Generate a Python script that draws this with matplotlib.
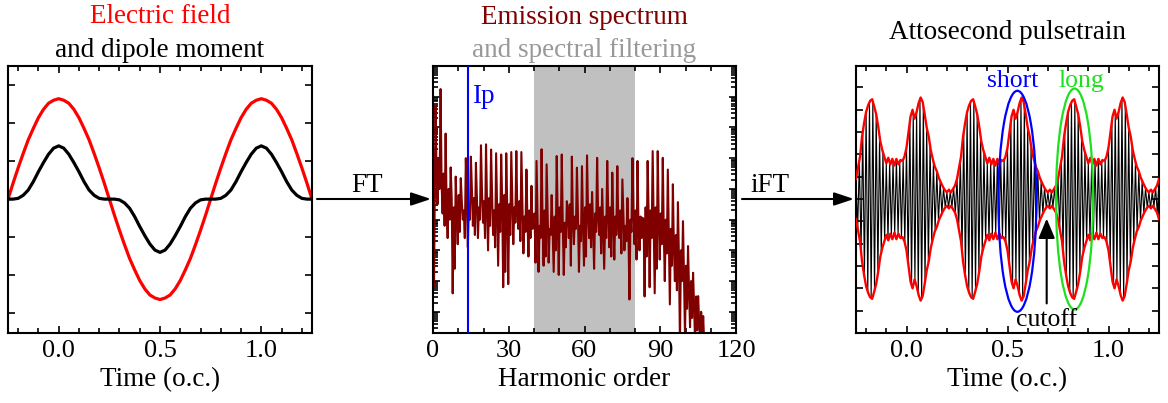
import numpy as np
import matplotlib
matplotlib.use("Agg")
import matplotlib.pyplot as plt
from matplotlib.patches import Ellipse, FancyArrowPatch
from matplotlib.ticker import MultipleLocator, LogLocator, NullFormatter

plt.rcParams['font.family'] = ['Liberation Serif', 'DejaVu Serif']

# ---- panel 1: field and dipole (time in optical cycles, step 0.025) ----
t_field = np.linspace(-0.25, 1.25, 61)
e_field = [0.0, 0.21, 0.41, 0.60, 0.78, 0.93, 1.07, 1.18, 1.26, 1.30, 1.32,
           1.30, 1.26, 1.18, 1.07, 0.93, 0.78, 0.60, 0.41, 0.21, 0.0,
           -0.21, -0.41, -0.60, -0.78, -0.93, -1.07, -1.18, -1.26, -1.30, -1.32,
           -1.30, -1.26, -1.18, -1.07, -0.93, -0.78, -0.60, -0.41, -0.21, 0.0,
           0.21, 0.41, 0.60, 0.78, 0.93, 1.07, 1.18, 1.26, 1.30, 1.32,
           1.30, 1.26, 1.18, 1.07, 0.93, 0.78, 0.60, 0.41, 0.21, 0.0]
dipole = [0.0, 0.0, 0.01, 0.05, 0.12, 0.23, 0.36, 0.48, 0.59, 0.67, 0.70,
          0.67, 0.59, 0.48, 0.36, 0.23, 0.12, 0.05, 0.01, 0.0, 0.0,
          0.0, -0.01, -0.05, -0.12, -0.23, -0.36, -0.48, -0.59, -0.67, -0.70,
          -0.67, -0.59, -0.48, -0.36, -0.23, -0.12, -0.05, -0.01, 0.0, 0.0,
          0.0, 0.01, 0.05, 0.12, 0.23, 0.36, 0.48, 0.59, 0.67, 0.70,
          0.67, 0.59, 0.48, 0.36, 0.23, 0.12, 0.05, 0.01, 0.0, 0.0]

# ---- panel 2: spectrum, log10 intensity ----
spec_start_x = [0.0, 0.4]
spec_start = [-2.8, -7.2]
odd_harm = np.arange(1, 108, 2)
# value at the odd harmonic, then four points between it and the next one
harm_peak = [-1.3, -0.75, -2.2, -3.3, -3.6, -3.65, -3.0, -2.95, -3.15, -2.58,
             -2.55, -2.72, -2.84, -2.88, -2.84, -2.8, -2.77, -2.8, -3.37, -3.9,
             -3.09, -2.71, -3.2, -4.2, -2.93, -2.88, -4.4, -2.95, -3.31, -3.26,
             -2.91, -4.1, -2.99, -4.0, -3.09, -3.47, -3.26, -3.69, -4.3, -3.0,
             -3.09, -4.94, -3.09, -2.77, -2.77, -2.99, -3.37, -3.85, -4.43, -5.05,
             -5.86, -6.73, -7.49, -8.14]
harm_mid = [-3.4, -3.8, -4.6, -4.3, -4.8, -4.4, -4.2, -4.0, -4.3, -4.1,
            -4.5, -4.2, -4.6, -4.4, -4.6, -4.3, -4.8, -4.5, -5.0, -5.3,
            -4.9, -5.1, -4.8, -5.4, -5.0, -5.2, -4.7, -5.0, -4.8, -5.1,
            -4.7, -5.2, -4.9, -5.3, -4.8, -5.0, -5.2, -4.9, -5.4, -4.8,
            -5.3, -5.0, -4.8, -5.1, -5.0, -5.4, -5.6, -5.9, -6.3, -6.8,
            -7.3, -7.8, -8.3, -9.0]
harm_low = [-4.5, -4.8, -5.6, -7.4, -5.8, -5.0, -5.9, -5.2, -5.6, -5.1,
            -6.0, -5.5, -6.5, -7.2, -7.1, -5.8, -5.3, -6.1, -6.2, -5.0,
            -6.7, -6.5, -6.4, -6.7, -6.8, -6.8, -5.6, -5.8, -6.7, -6.5,
            -5.6, -6.6, -5.5, -6.6, -5.9, -6.3, -5.6, -6.0, -7.6, -5.8,
            -6.0, -7.5, -7.2, -7.4, -6.3, -7.0, -7.76, -7.0, -9.0, -8.8,
            -8.5, -9.0, -9.2, -9.5]
harm_mid2 = [-3.0, -3.5, -4.0, -4.6, -4.2, -4.7, -4.5, -4.3, -4.6, -4.4,
             -4.3, -4.7, -4.5, -4.2, -4.5, -4.6, -4.4, -4.9, -4.7, -4.8,
             -5.2, -4.7, -5.3, -4.9, -4.6, -5.1, -4.5, -4.9, -5.2, -4.6,
             -4.5, -4.8, -4.6, -4.9, -4.6, -4.9, -4.7, -5.2, -5.0, -4.7,
             -4.9, -4.6, -4.7, -4.6, -4.8, -5.0, -5.3, -5.5, -6.0, -6.5,
             -7.0, -7.5, -8.0, -8.8]
harm_low2 = [-4.0, -5.2, -5.0, -6.6, -5.4, -5.6, -5.0, -5.5, -5.0, -5.6,
             -5.2, -5.9, -5.4, -6.7, -5.5, -5.1, -5.7, -5.4, -5.6, -6.4,
             -5.6, -6.2, -5.5, -6.0, -5.4, -5.9, -6.5, -5.3, -5.7, -6.2,
             -5.9, -5.4, -6.1, -5.6, -6.2, -5.5, -6.1, -5.7, -5.4, -6.3,
             -5.6, -6.2, -5.6, -6.6, -5.8, -6.1, -6.5, -7.3, -7.0, -7.9,
             -8.2, -8.6, -9.1, -9.6]
ip_harm = 14
filter_band = (40, 80)

# ---- panel 3: pulse train envelope, one 0.5 o.c. period, step 0.01 ----
env_period = [0.9, 1.4, 1.9, 2.8, 3.4, 3.9, 4.2, 4.4, 4.47, 4.15,
              3.8, 3.25, 2.6, 2.2, 1.9, 1.6, 1.85, 1.55, 1.8, 1.5,
              1.8, 1.55, 1.75, 1.7, 1.9, 2.3, 3.0, 3.7, 4.0, 3.6,
              3.9, 4.3, 4.55, 4.35, 3.8, 3.2, 2.8, 2.2, 1.8, 1.45,
              1.25, 0.95, 0.75, 0.55, 0.4, 0.3, 0.42, 0.3, 0.45, 0.6]
carrier_harm = 60

# ---------------------------------------------------------------
fig = plt.figure(figsize=(11.68, 4.03), dpi=100)
W, H = 1168, 403
FS = 19.5


def px_axes(x0, x1, y0, y1):
    return fig.add_axes([x0 / W, (H - y1) / H, (x1 - x0) / W, (y1 - y0) / H])


def style(ax):
    for s in ax.spines.values():
        s.set_linewidth(1.5)
    ax.tick_params(which='both', direction='in', top=True, right=True,
                   labelleft=False, width=1.2, labelsize=19, pad=5)
    ax.tick_params(which='major', length=5)
    ax.tick_params(which='minor', length=3.5)


ax1 = px_axes(8, 312, 66, 333)
ax2 = px_axes(433, 736, 66, 333)
ax3 = px_axes(856, 1159, 66, 333)

# panel 1
ax1.plot(t_field, e_field, color='#ff0000', lw=2.3)
ax1.plot(t_field, dipole, color='black', lw=2.3)
ax1.set_xlim(-0.25, 1.25)
ax1.set_ylim(-1.76, 1.75)
ax1.xaxis.set_major_locator(MultipleLocator(0.5))
ax1.xaxis.set_minor_locator(MultipleLocator(0.1))
ax1.yaxis.set_major_locator(MultipleLocator(0.5))
ax1.yaxis.set_major_formatter(NullFormatter())
ax1.xaxis.set_major_formatter(plt.FuncFormatter(lambda v, p: f"{v:.1f}"))
ax1.set_xlabel("Time (o.c.)", fontsize=FS, labelpad=4)
style(ax1)

# panel 2
spec_x = np.concatenate([spec_start_x,
                         np.column_stack([odd_harm, odd_harm + 0.4, odd_harm + 0.8,
                                          odd_harm + 1.2, odd_harm + 1.6]).ravel()])
spec_y = np.concatenate([spec_start,
                         np.column_stack([harm_peak, harm_mid, harm_low,
                                          harm_mid2, harm_low2]).ravel()])
ax2.axvspan(*filter_band, color='#c0c0c0', lw=0, zorder=0)
ax2.plot(spec_x, 10.0 ** spec_y, color='#800000', lw=1.5, zorder=2)
ax2.axvline(ip_harm, color='#0000ff', lw=1.5, zorder=3)
ax2.text(ip_harm + 1.3, 10 ** -1.0, "Ip", color='#0000ff', fontsize=FS,
         va='center', ha='left')
ax2.set_yscale('log')
ax2.set_xlim(0, 120)
ax2.set_ylim(10 ** -8.69, 1)
ax2.xaxis.set_major_locator(MultipleLocator(30))
ax2.xaxis.set_minor_locator(MultipleLocator(10))
ax2.yaxis.set_major_locator(LogLocator(base=10, numticks=20))
ax2.yaxis.set_minor_locator(LogLocator(base=10, subs=np.arange(2, 10), numticks=20))
ax2.yaxis.set_major_formatter(NullFormatter())
ax2.yaxis.set_minor_formatter(NullFormatter())
ax2.set_xlabel("Harmonic order", fontsize=FS, labelpad=4)
style(ax2)

# panel 3
t_env = np.round(np.arange(151) * 0.01 - 0.25, 4)
env = np.append(np.tile(env_period, 3), env_period[0])
t_car = np.arange(-0.25, 1.25 + 1e-9, 1.0 / (2 * carrier_harm))
car = (-1.0) ** np.arange(len(t_car)) * np.interp(t_car, t_env, env)
ax3.plot(t_car, car, color='black', lw=0.8, zorder=2)
ax3.plot(t_env, env, color='#ff0000', lw=1.7, zorder=3)
ax3.plot(t_env, -env, color='#ff0000', lw=1.7, zorder=3)
ax3.add_patch(Ellipse((0.549, -0.1), 0.188, 9.9, fill=False, ec='#0000ff', lw=1.6, zorder=4))
ax3.add_patch(Ellipse((0.832, 0.0), 0.184, 9.9, fill=False, ec='#1ee01e', lw=1.6, zorder=4))
ax3.text(0.525, 5.3, "short", color='#0000ff', fontsize=18.5, ha='center', va='center')
ax3.text(0.865, 5.3, "long", color='#1ee01e', fontsize=18.5, ha='center', va='center')
ax3.annotate("", xy=(0.694, -0.75), xytext=(0.694, -4.8),
             arrowprops=dict(arrowstyle='-|>,head_length=0.6,head_width=0.25',
                             color='black', lw=1.5, mutation_scale=20), zorder=5)
ax3.text(0.694, -5.4, "cutoff", fontsize=18.5, ha='center', va='center', zorder=5)
ax3.set_xlim(-0.25, 1.25)
ax3.set_ylim(-6.0, 5.96)
ax3.xaxis.set_major_locator(MultipleLocator(0.5))
ax3.xaxis.set_minor_locator(MultipleLocator(0.1))
ax3.yaxis.set_major_locator(MultipleLocator(1))
ax3.yaxis.set_major_formatter(NullFormatter())
ax3.xaxis.set_major_formatter(plt.FuncFormatter(lambda v, p: f"{v:.1f}"))
ax3.set_xlabel("Time (o.c.)", fontsize=FS, labelpad=4)
style(ax3)

# titles
fig.text(160 / W, (H - 23) / H, "Electric field", color='#ff0000', fontsize=FS, ha='center', va='baseline')
fig.text(160 / W, (H - 57) / H, "and dipole moment", color='black', fontsize=FS, ha='center', va='baseline')
fig.text(584 / W, (H - 24) / H, "Emission spectrum", color='#800000', fontsize=FS, ha='center', va='baseline')
fig.text(584 / W, (H - 57) / H, "and spectral filtering", color='#999999', fontsize=FS, ha='center', va='baseline')
fig.text(1007 / W, (H - 39) / H, "Attosecond pulsetrain", color='black', fontsize=FS, ha='center', va='baseline')

# FT / iFT arrows
arrow_kw = dict(arrowstyle='-|>,head_length=0.6,head_width=0.2', color='black',
                lw=1.5, mutation_scale=20)
fig.add_artist(FancyArrowPatch((317 / W, 204 / H), (431 / W, 204 / H),
                               transform=fig.transFigure, shrinkA=0, shrinkB=0, **arrow_kw))
fig.add_artist(FancyArrowPatch((742 / W, 204 / H), (854 / W, 204 / H),
                               transform=fig.transFigure, shrinkA=0, shrinkB=0, **arrow_kw))
fig.text(367 / W, (H - 192) / H, "FT", fontsize=FS, ha='center', va='baseline')
fig.text(770 / W, (H - 192) / H, "iFT", fontsize=FS, ha='center', va='baseline')

fig.savefig("out.png", dpi=100)
